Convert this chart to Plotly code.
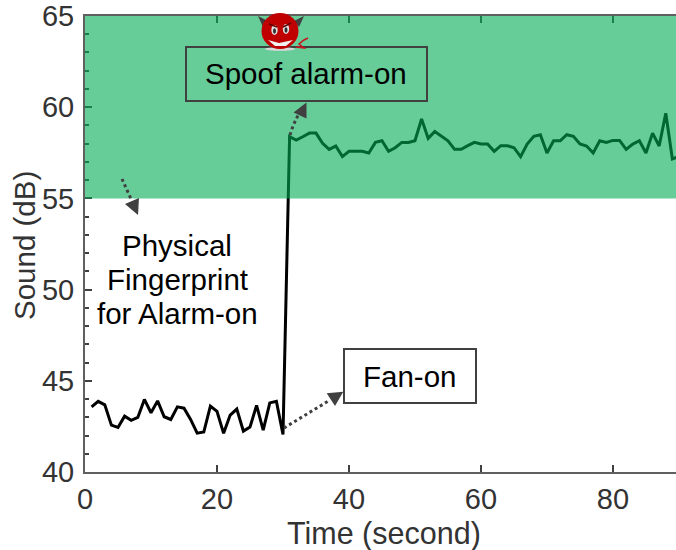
import plotly.graph_objects as go

time_s = list(range(1, 91))
sound_db = [
    43.57, 43.87, 43.68, 42.57, 42.44, 43.06, 42.83, 42.99, 43.98, 43.25,
    43.90, 43.03, 42.88, 43.57, 43.50, 42.88, 42.13, 42.19, 43.61, 43.32,
    42.12, 43.12, 43.45, 42.24, 42.46, 43.65, 42.30, 43.79, 43.88, 42.06,
    58.38, 58.20, 58.38, 58.58, 58.58, 58.02, 57.69, 57.87, 57.29, 57.58,
    57.58, 57.58, 57.49, 58.07, 58.16, 57.58, 57.78, 58.07, 58.07, 58.16,
    59.35, 58.29, 58.67, 58.40, 58.16, 57.69, 57.69, 57.89, 58.07, 57.98,
    57.98, 57.58, 57.89, 57.89, 57.78, 57.29, 57.98, 58.40, 58.49, 57.49,
    58.16, 58.16, 58.49, 58.40, 57.98, 57.87, 57.49, 58.16, 58.07, 58.18,
    58.18, 57.69, 57.98, 58.16, 57.49, 58.58, 57.87, 59.67, 57.16, 57.30,
]
x_ticks = [0, 20, 40, 60, 80]
y_ticks = [40, 45, 50, 55, 60, 65]
alarm_band = [55, 65]

W, H = 676, 550
L, R, T, B = 85, 676, 16, 472
FONT = "Liberation Sans, Arial, sans-serif"
TEXT = "#000000"
LABEL = "#333333"
TICK = "#404040"


def fx(px):
    return (px - L) / (R - L)


def fy(py):
    return (B - py) / (B - T)


def poly(points, fill, line=None, width=0):
    d = "M" + " L".join(f"{fx(a):.5f},{fy(b):.5f}" for a, b in points) + " Z"
    return dict(type="path", xref="paper", yref="paper", path=d, fillcolor=fill,
                line=dict(color=line or fill, width=width), layer="above")


def open_path(points, color, width, dash="solid"):
    d = "M" + " L".join(f"{fx(a):.5f},{fy(b):.5f}" for a, b in points)
    return dict(type="path", xref="paper", yref="paper", path=d,
                line=dict(color=color, width=width, dash=dash), layer="above")


def ellipse(cx, cy, rx, ry, fill):
    return dict(type="circle", xref="paper", yref="paper",
                x0=fx(cx - rx), x1=fx(cx + rx), y0=fy(cy + ry), y1=fy(cy - ry),
                fillcolor=fill, line=dict(width=0), layer="above")


def box(x0, y0, x1, y1, fill):
    return dict(type="rect", xref="paper", yref="paper", x0=fx(x0), x1=fx(x1),
                y0=fy(y1), y1=fy(y0), fillcolor=fill,
                line=dict(color="#404040", width=2), layer="above")


shapes = [
    dict(type="rect", xref="x", yref="y", x0=-0.2, x1=90, y0=alarm_band[0], y1=alarm_band[1],
         fillcolor="rgba(0,172,85,0.6)", line=dict(width=0), layer="above"),
    box(186, 47, 427, 101, "rgba(0,0,0,0)"),
    box(344, 349, 476, 403, "#ffffff"),
    # arrows
    open_path([(290, 135), (293, 126), (299, 113)], "#404040", 3, "dot"),
    poly([(306.5, 102.5), (293.5, 112.5), (306.5, 118.5)], "#404040"),
    open_path([(122, 179), (131, 199)], "#404040", 3, "dot"),
    poly([(139, 198), (125, 204), (138, 215)], "#404040"),
    open_path([(284, 428), (330, 400)], "#404040", 3, "dot"),
    poly([(326.7, 393.3), (343.3, 391.7), (335, 406)], "#404040"),
    # devil
    ellipse(280, 49, 15, 1.8, "#d8d8d8"),
    poly([(258, 16), (268, 21), (263, 27)], "#404040"),
    poly([(304, 16), (294, 21), (299, 27)], "#404040"),
    ellipse(280, 31, 18.5, 18, "#c00000"),
    ellipse(274.5, 30, 3.2, 5, "#e0e0e0"),
    ellipse(286, 29, 3.2, 5, "#e0e0e0"),
    ellipse(274.5, 31, 1.5, 2.8, "#303030"),
    ellipse(286, 30, 1.5, 2.8, "#303030"),
    open_path([(269, 24), (277, 27)], "#600000", 1.5),
    open_path([(291, 23), (283, 27)], "#600000", 1.5),
    poly([(268, 40), (279, 43), (293, 40), (286, 46), (275, 46)], "#f0f0f0"),
    open_path([(296, 47), (304, 48), (299, 44), (304, 40), (308, 38)], "#c8141e", 1.5),
]

annotation_texts = [
    ("Spoof alarm-on", 306, 74),
    ("Fan-on", 410, 376),
    ("Physical", 177, 245),
    ("Fingerprint", 177, 279),
    ("for Alarm-on", 177, 314),
]
annotations = [
    dict(x=fx(px), y=fy(py), text=t, xref="paper", yref="paper", showarrow=False,
         xanchor="center", yanchor="middle",
         font=dict(family=FONT, size=29.5, color=TEXT), align="center")
    for t, px, py in annotation_texts
]
annotations += [
    dict(x=fx(384), y=fy(533), text="Time (second)", xref="paper", yref="paper",
         showarrow=False, xanchor="center", yanchor="middle",
         font=dict(family=FONT, size=30.5, color=LABEL)),
    dict(x=fx(24), y=fy(246), text="Sound (dB)", xref="paper", yref="paper", textangle=-90,
         showarrow=False, xanchor="center", yanchor="middle",
         font=dict(family=FONT, size=29.5, color=LABEL)),
]

fig = go.Figure(
    go.Scatter(x=time_s, y=sound_db, mode="lines", line=dict(color="#000000", width=3),
               hoverinfo="skip", showlegend=False)
)

common_axis = dict(
    showgrid=False, zeroline=False, showline=True, linecolor="#606060", linewidth=2,
    ticks="inside", tickcolor=TICK, tickwidth=1.5, ticklen=7,
    tickfont=dict(family=FONT, size=29, color=LABEL),
)
fig.update_xaxes(range=[0, 89.55], tickvals=x_ticks, mirror="ticks", **common_axis)
fig.update_yaxes(
    range=[40, 65], tickvals=y_ticks, mirror=False, ticklabeloverflow="allow",
    ticklabelstandoff=3,
    minor=dict(dtick=1, ticks="inside", ticklen=4, tickcolor=TICK, tickwidth=1.5),
    **common_axis,
)
fig.update_layout(
    width=W, height=H, margin=dict(l=L, r=W - R, t=T, b=H - B, autoexpand=False),
    plot_bgcolor="#ffffff", paper_bgcolor="#ffffff",
    shapes=shapes, annotations=annotations, showlegend=False,
)
fig.write_html("out.html", config=dict(displayModeBar=False),
               post_script="document.body.style.margin='0';document.body.style.overflow='hidden';")
